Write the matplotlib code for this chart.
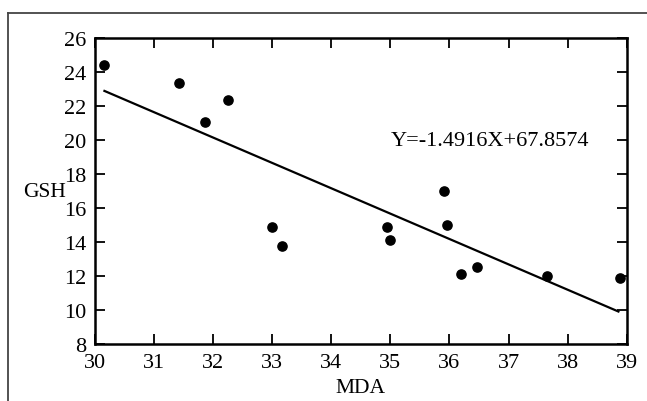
import numpy as np
import matplotlib.pyplot as plt
from matplotlib.lines import Line2D

# Data
mda = [30.16, 31.42, 31.86, 32.26, 32.99, 33.16, 34.94, 34.99,
       35.90, 35.96, 36.20, 36.46, 37.65, 38.89]
gsh = [24.41, 23.32, 21.03, 22.36, 14.88, 13.73, 14.88, 14.12,
       16.96, 15.00, 12.09, 12.52, 11.97, 11.89]
slope = -1.4916
intercept = 67.8574

plt.rcParams['font.family'] = ['Liberation Serif', 'DejaVu Serif']

fig = plt.figure(figsize=(6.47, 4.02), dpi=100)
ax = fig.add_axes([0.1468, 0.1425, 0.8218, 0.7612])

# grey outer frame (left and top only visible)
fx, fy = 8 / 647, 1 - 14 / 402
fig.add_artist(Line2D([fx, fx], [-0.1, fy], transform=fig.transFigure,
                      color='#444444', lw=1.3))
fig.add_artist(Line2D([fx, 1.1], [fy, fy], transform=fig.transFigure,
                      color='#444444', lw=1.3))

# scatter + fitted line
ax.scatter(mda, gsh, s=44, color='black', zorder=3)
xf = np.array([min(mda), 38.86])
ax.plot(xf, slope * xf + intercept, color='black', lw=1.6)

ax.text(35.0, 19.95, f"Y={slope}X+{intercept}", fontsize=16,
        ha='left', va='center')

ax.set_xlim(30, 39)
ax.set_ylim(8, 26)
ax.set_xticks(range(30, 40))
ax.set_yticks(range(8, 27, 2))
ax.tick_params(direction='in', length=7, width=1.3, labelsize=16,
               top=True, right=True)
ax.tick_params(axis='x', pad=7)
ax.tick_params(axis='y', pad=6)
for s in ax.spines.values():
    s.set_linewidth(1.8)

ax.set_xlabel("MDA", fontsize=15.5)
ax.xaxis.set_label_coords(0.5, -0.1415)
ax.xaxis.label.set_va('center')
ax.set_ylabel("GSH", fontsize=15.5, rotation=0, va='center', ha='center')
ax.yaxis.set_label_coords(-0.094, 0.499)

fig.savefig("out.png", dpi=100)
